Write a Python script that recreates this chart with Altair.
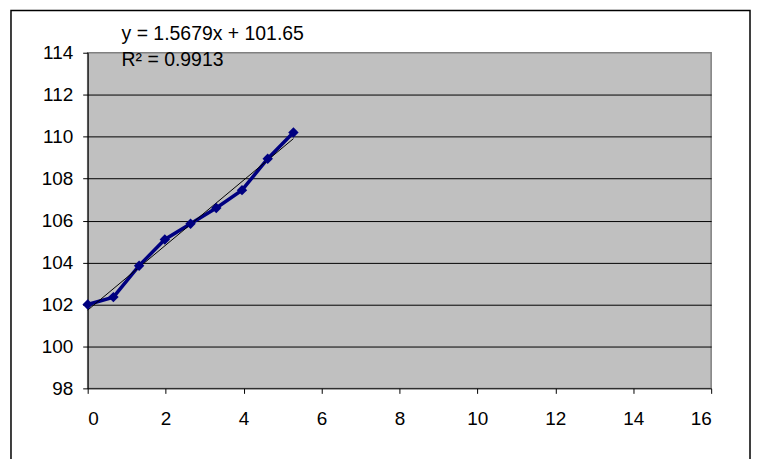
import altair as alt
import pandas as pd

# data
x_vals = [0.0, 0.66, 1.32, 1.98, 2.64, 3.30, 3.96, 4.62, 5.28]
y_vals = [102.0, 102.35, 103.85, 105.1, 105.85, 106.6, 107.45, 108.95, 110.2]
x_ticks = [0, 2, 4, 6, 8, 10, 12, 14, 16]
y_ticks = [98, 100, 102, 104, 106, 108, 110, 112, 114]
eq_lines = ["y = 1.5679x + 101.65", "R\u00b2 = 0.9913"]

df = pd.DataFrame({"x": x_vals, "y": y_vals})

FONT = "Liberation Sans"

xs = alt.Scale(domain=[0, 16], nice=False, zero=False)
ys = alt.Scale(domain=[98, 114], nice=False, zero=False)

x_axis = alt.Axis(values=x_ticks, title=None, grid=False, domainColor="black",
                  tickColor="black", tickSize=5, labelFontSize=19, labelFont=FONT,
                  labelColor="black", labelPadding=16)
y_axis = alt.Axis(values=y_ticks, title=None, domainColor="black",
                  tickColor="black", tickSize=5, labelFontSize=19, labelFont=FONT,
                  labelColor="black", labelPadding=10, gridColor="black",
                  gridWidth=1,
                  gridOpacity={"condition": {"test": "datum.value == 114 || datum.value == 98", "value": 0}, "value": 1})

base = alt.Chart(df)

line = base.mark_line(color="#000080", strokeWidth=3.5).encode(
    x=alt.X("x:Q", scale=xs, axis=x_axis),
    y=alt.Y("y:Q", scale=ys, axis=y_axis),
)
pts = base.mark_point(shape="diamond", filled=True, color="#000080", size=110, opacity=1).encode(
    x=alt.X("x:Q", scale=xs),
    y=alt.Y("y:Q", scale=ys),
)
trend = base.transform_regression("x", "y").mark_line(color="black", strokeWidth=1).encode(
    x=alt.X("x:Q", scale=xs),
    y=alt.Y("y:Q", scale=ys),
)

eq_df = pd.DataFrame({"t": eq_lines, "i": [0, 1]})
eq1 = alt.Chart(eq_df).transform_filter("datum.i == 0").mark_text(
    align="left", baseline="middle", font=FONT, fontSize=19.5, color="black"
).encode(x=alt.value(34), y=alt.value(-19), text="t:N")
eq2 = alt.Chart(eq_df).transform_filter("datum.i == 1").mark_text(
    align="left", baseline="middle", font=FONT, fontSize=19.5, color="black"
).encode(x=alt.value(34), y=alt.value(7), text="t:N")

frame = alt.Chart(pd.DataFrame({"a": [0]})).mark_rect(
    fill=None, stroke="black", strokeWidth=1.5, clip=False
).encode(x=alt.value(-77), x2=alt.value(665), y=alt.value(-42.5), y2=alt.value(430))

chart = alt.layer(frame, line, trend, pts, eq1, eq2).properties(
    width=626, height=337,
    autosize=alt.AutoSizeParams(type="none"),
    padding={"left": 80, "top": 44, "right": 40, "bottom": 70},
).configure(
    background="white",
    view=alt.ViewConfig(fill="#C0C0C0", stroke="#808080", strokeWidth=1.5),
)

chart.save("out.html", embed_options={"renderer": "svg", "actions": False})
